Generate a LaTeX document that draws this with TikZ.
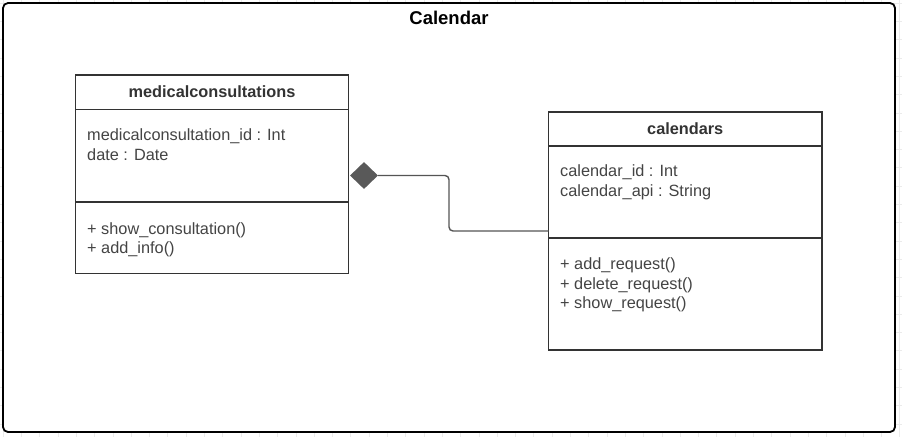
\documentclass[tikz,border=0pt]{standalone}
\usepackage{fontspec}
\setmainfont{Liberation Sans}
\usetikzlibrary{shapes.geometric}
\definecolor{linec}{HTML}{333333}
\definecolor{txtc}{HTML}{444444}
\definecolor{headc}{HTML}{333333}
\definecolor{connc}{HTML}{555555}
\definecolor{diac}{HTML}{595959}
\definecolor{gridc}{HTML}{EBEBEB}
\begin{document}
\begin{tikzpicture}[x=1pt,y=-1pt,
  part/.style={draw=linec, line width=1.4pt, inner sep=0pt, outer sep=0pt, anchor=north west},
  attr/.style={text=txtc, font=\fontsize{16.3}{19.5}\selectfont, inner sep=0pt, anchor=base west},
  head/.style={text=headc, font=\fontsize{16.3}{19.5}\selectfont\bfseries, inner sep=0pt, anchor=base},
  conn/.style={draw=connc, line width=1.4pt, rounded corners=4pt}]
\useasboundingbox (0,0) rectangle (902,437);
% faint background grid
\foreach \i in {0,...,49} \draw[gridc, line width=0.5pt] (3+18.3*\i,0) -- (3+18.3*\i,437);
\foreach \j in {0,...,23} \draw[gridc, line width=0.5pt] (0,3+18.3*\j) -- (902,3+18.3*\j);
% frame
\draw[black, line width=1.8pt, rounded corners=5pt, fill=white] (3,3) rectangle (895,432);
\node[text=black, font=\fontsize{18.5}{22}\selectfont\bfseries, inner sep=0pt, anchor=base] (title) at (449,24.3) {Calendar};

% medicalconsultations
\node[part, minimum width=273pt, minimum height=34.5pt] (mh) at (75.5,75) {};
\node[part, minimum width=273pt, minimum height=92.5pt] (ma) at (mh.south west) {};
\node[part, minimum width=273pt, minimum height=71.5pt] (mm) at (ma.south west) {};
\node[head] (mht) at (212,97) {medicalconsultations};
\node[attr] (ma1) at (87,140.7) {medicalconsultation\_id : Int};
\node[attr] (ma2) at (87,160.3) {date : Date};
\node[attr] (mm1) at (87,234) {+ show\_consultation()};
\node[attr] (mm2) at (87,253.5) {+ add\_info()};

% calendars
\node[part, minimum width=273.5pt, minimum height=34pt] (ch) at (548.5,112) {};
\node[part, minimum width=273.5pt, minimum height=92pt] (ca) at (ch.south west) {};
\node[part, minimum width=273.5pt, minimum height=112pt] (cm) at (ca.south west) {};
\node[head] (cht) at (685.25,134) {calendars};
\node[attr] (ca1) at (560,176.5) {calendar\_id : Int};
\node[attr] (ca2) at (560,196) {calendar\_api : String};
\node[attr] (cm1) at (560,269.5) {+ add\_request()};
\node[attr] (cm2) at (560,289) {+ delete\_request()};
\node[attr] (cm3) at (560,308.5) {+ show\_request()};

% composition
\node[diamond, fill=diac, draw=none, inner sep=0pt, minimum width=28pt, minimum height=27pt] (dia) at (364,175.5) {};
\coordinate (bend) at (449,231);
\draw[conn] (dia.east) -| (bend) -- (ca.west |- bend);
\end{tikzpicture}
\end{document}
